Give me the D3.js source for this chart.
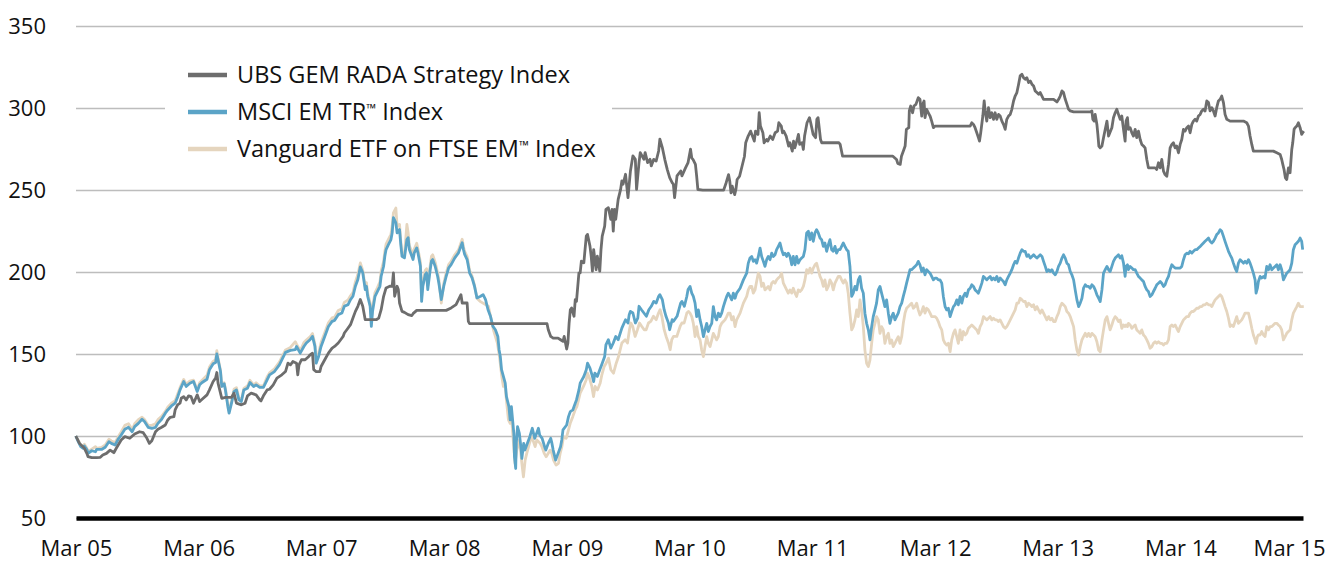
<!DOCTYPE html>
<html>
<head>
<meta charset="utf-8">
<script src="https://cdn.jsdelivr.net/npm/d3@7"></script>
<style>
  body { margin: 0; background: #fff; }
  svg { display: block; font-family: "Open Sans", "Noto Sans", sans-serif; }
</style>
</head>
<body>
<svg id="chart"></svg>
<script>
// data: [decimal year, index value], rebased to 100 in Mar 2005
const yTicks = [50, 100, 150, 200, 250, 300, 350];
const xTickYears = [2005, 2006, 2007, 2008, 2009, 2010, 2011, 2012, 2013, 2014, 2015];
const xTickLabels = ["Mar 05", "Mar 06", "Mar 07", "Mar 08", "Mar 09", "Mar 10", "Mar 11", "Mar 12", "Mar 13", "Mar 14", "Mar 15"];
const seriesNames = ["UBS GEM RADA Strategy Index", "MSCI EM TR\u2122 Index", "Vanguard ETF on FTSE EM\u2122 Index"];
const seriesColors = ["#6d6d6d", "#5ba4c7", "#e5d5be"];

const ubs = [
  [2005.16,100],[2005.19,95.5],[2005.23,92.5],[2005.25,89.4],[2005.26,87.4],[2005.29,86.8],[2005.33,86.8],[2005.36,87.0],[2005.38,88.4],[2005.41,89.4],
  [2005.44,91.4],[2005.47,89.8],[2005.49,92.5],[2005.53,97.6],[2005.56,99.6],[2005.60,98.6],[2005.64,101.2],[2005.68,102.6],[2005.71,102.0],[2005.74,98.6],
  [2005.76,95.5],[2005.78,97.1],[2005.81,102.6],[2005.83,104.1],[2005.86,105.3],[2005.89,106.7],[2005.91,109.8],[2005.93,111.4],[2005.96,111.8],[2005.97,115.9],
  [2005.99,119.0],[2006.01,120.0],[2006.02,123.0],[2006.04,124.0],[2006.06,122.0],[2006.08,124.5],[2006.10,124.0],[2006.12,120.0],[2006.15,125.1],[2006.17,121.0],
  [2006.19,122.4],[2006.23,125.1],[2006.25,128.1],[2006.28,133.2],[2006.30,135.3],[2006.31,138.7],[2006.32,132.2],[2006.34,126.1],[2006.35,123.0],[2006.38,123.6],
  [2006.43,123.6],[2006.45,126.1],[2006.47,120.0],[2006.51,119.0],[2006.54,120.0],[2006.56,124.5],[2006.59,126.1],[2006.63,125.1],[2006.66,122.0],[2006.67,121.4],
  [2006.69,124.5],[2006.72,128.1],[2006.74,128.5],[2006.77,131.2],[2006.80,135.3],[2006.84,137.3],[2006.87,139.3],[2006.89,144.4],[2006.91,143.4],[2006.93,145.4],
  [2006.96,144.4],[2006.97,137.3],[2006.98,143.4],[2007.00,146.5],[2007.03,146.5],[2007.06,148.5],[2007.07,149.5],[2007.09,150.5],[2007.10,140.4],[2007.12,139.3],
  [2007.15,139.3],[2007.16,142.4],[2007.19,146.5],[2007.22,150.5],[2007.25,153.6],[2007.27,154.6],[2007.30,156.7],[2007.32,158.7],[2007.34,160.7],[2007.35,162.8],
  [2007.37,164.8],[2007.40,167.9],[2007.42,171.9],[2007.44,176.0],[2007.46,179.1],[2007.48,183.2],[2007.50,179.1],[2007.52,170.9],[2007.61,170.9],[2007.63,171.9],
  [2007.65,177.0],[2007.67,185.2],[2007.69,190.3],[2007.72,191.3],[2007.74,191.3],[2007.75,199.5],[2007.76,185.2],[2007.78,191.3],[2007.79,189.3],[2007.80,181.1],
  [2007.82,176.0],[2007.84,175.4],[2007.87,174.0],[2007.90,173.4],[2007.91,174.6],[2007.94,176.6],[2008.18,176.6],[2008.22,178.1],[2008.26,180.1],[2008.30,186.2],
  [2008.31,181.1],[2008.35,181.1],[2008.36,169.9],[2008.37,168.5],[2009.00,168.5],[2009.01,164.8],[2009.03,160.7],[2009.05,159.7],[2009.09,159.7],[2009.11,158.7],
  [2009.13,157.7],[2009.14,160.7],[2009.16,153.0],[2009.17,156.7],[2009.18,168.9],[2009.19,177.0],[2009.20,178.1],[2009.22,173.0],[2009.23,183.2],[2009.24,182.1],
  [2009.26,199.5],[2009.27,199.5],[2009.28,206.6],[2009.30,205.6],[2009.32,221.9],[2009.33,222.9],[2009.35,215.8],[2009.36,209.6],[2009.37,200.5],[2009.38,213.7],
  [2009.40,201.5],[2009.41,209.6],[2009.43,200.5],[2009.44,213.7],[2009.45,221.9],[2009.47,228.0],[2009.48,238.2],[2009.50,239.2],[2009.52,232.1],[2009.53,238.2],
  [2009.54,224.9],[2009.55,238.2],[2009.56,232.1],[2009.58,244.3],[2009.60,250.4],[2009.61,255.5],[2009.62,253.5],[2009.64,259.6],[2009.65,252.4],[2009.66,245.3],
  [2009.68,261.6],[2009.70,270.8],[2009.72,268.7],[2009.73,250.4],[2009.75,266.7],[2009.76,272.8],[2009.79,268.7],[2009.80,272.8],[2009.82,266.7],[2009.84,268.7],
  [2009.85,264.7],[2009.87,268.7],[2009.89,267.7],[2009.91,273.8],[2009.92,281.0],[2009.94,275.9],[2009.96,268.7],[2009.98,262.6],[2010.00,257.5],[2010.02,254.5],
  [2010.03,253.5],[2010.04,245.3],[2010.06,258.6],[2010.09,261.6],[2010.10,258.6],[2010.13,263.6],[2010.15,266.7],[2010.17,274.9],[2010.18,269.6],[2010.19,268.6],
  [2010.21,265.6],[2010.22,258.4],[2010.23,250.3],[2010.27,249.9],[2010.44,249.9],[2010.46,254.3],[2010.48,259.4],[2010.49,255.4],[2010.50,248.2],[2010.51,252.3],
  [2010.53,247.2],[2010.54,250.3],[2010.55,256.4],[2010.57,258.4],[2010.59,264.5],[2010.61,270.6],[2010.62,278.8],[2010.64,282.9],[2010.66,285.9],[2010.68,281.9],
  [2010.69,279.8],[2010.70,285.9],[2010.72,283.9],[2010.73,297.1],[2010.74,289.0],[2010.76,284.9],[2010.77,278.8],[2010.79,280.8],[2010.80,279.8],[2010.82,282.9],
  [2010.84,280.8],[2010.86,284.9],[2010.88,285.9],[2010.89,291.0],[2010.91,289.0],[2010.92,284.9],[2010.93,285.9],[2010.95,282.9],[2010.97,276.8],[2010.98,278.8],
  [2011.00,273.7],[2011.01,279.8],[2011.02,275.7],[2011.04,280.8],[2011.05,283.9],[2011.06,277.8],[2011.08,278.8],[2011.09,274.7],[2011.10,282.9],[2011.12,291.0],
  [2011.14,294.1],[2011.15,291.0],[2011.17,283.9],[2011.19,281.9],[2011.20,293.1],[2011.21,294.1],[2011.23,280.8],[2011.24,278.8],[2011.38,278.8],[2011.39,277.8],
  [2011.41,270.6],[2011.82,270.6],[2011.85,268.6],[2011.86,266.2],[2011.88,265.6],[2011.89,270.6],[2011.91,274.7],[2011.92,276.8],[2011.93,287.0],[2011.95,288.0],
  [2011.954,298.2],[2011.965,301.2],[2011.981,297.1],[2011.992,301.2],[2012.008,302.2],[2012.027,306.3],[2012.041,305.3],[2012.055,295.1],[2012.063,302.2],[2012.074,304.3],
  [2012.082,294.1],[2012.095,299.2],[2012.109,297.1],[2012.123,295.1],[2012.136,292.0],[2012.150,288.0],[2012.163,289.0],[2012.449,289.0],[2012.462,291.0],[2012.476,290.0],
  [2012.489,288.0],[2012.503,284.9],[2012.516,281.9],[2012.525,279.8],[2012.535,284.9],[2012.552,295.1],[2012.563,304.3],[2012.571,298.2],[2012.584,292.0],[2012.598,300.2],
  [2012.612,294.1],[2012.625,297.1],[2012.639,293.1],[2012.652,297.1],[2012.666,293.1],[2012.680,296.1],[2012.693,295.1],[2012.707,292.0],[2012.720,290.0],[2012.734,287.0],
  [2012.747,293.1],[2012.761,295.1],[2012.775,296.1],[2012.788,299.2],[2012.802,304.3],[2012.815,307.3],[2012.829,309.4],[2012.843,314.5],[2012.856,319.6],[2012.870,320.6],
  [2012.883,318.5],[2012.897,317.5],[2012.910,318.5],[2012.924,315.5],[2012.938,316.5],[2012.951,314.5],[2012.965,313.4],[2012.978,310.4],[2012.992,309.4],[2013.006,308.4],
  [2013.019,309.4],[2013.033,307.3],[2013.046,305.3],[2013.128,305.3],[2013.155,303.7],[2013.169,305.3],[2013.182,307.3],[2013.196,310.4],[2013.209,309.4],[2013.223,305.3],
  [2013.237,302.2],[2013.250,299.2],[2013.264,298.2],[2013.291,297.6],[2013.427,297.6],[2013.440,298.2],[2013.448,293.1],[2013.459,292.0],[2013.467,296.1],[2013.481,290.0],
  [2013.489,283.9],[2013.497,276.8],[2013.508,275.7],[2013.522,276.8],[2013.535,281.9],[2013.549,287.0],[2013.563,292.0],[2013.576,282.9],[2013.603,288.0],[2013.616,294.1],
  [2013.630,297.1],[2013.643,299.2],[2013.657,296.1],[2013.671,293.1],[2013.684,295.1],[2013.698,287.0],[2013.711,279.8],[2013.719,292.0],[2013.730,294.1],[2013.738,287.0],
  [2013.752,288.0],[2013.766,284.9],[2013.779,282.9],[2013.793,287.0],[2013.806,281.9],[2013.820,285.9],[2013.834,280.8],[2013.847,277.8],[2013.861,276.8],[2013.874,275.7],
  [2013.888,268.6],[2013.901,263.5],[2013.929,263.5],[2013.956,263.5],[2013.969,262.5],[2013.983,266.6],[2013.997,263.5],[2014.010,268.6],[2014.024,261.5],[2014.037,259.4],
  [2014.051,258.4],[2014.065,265.6],[2014.078,275.7],[2014.092,277.8],[2014.105,278.8],[2014.119,275.7],[2014.132,276.8],[2014.146,272.7],[2014.160,277.8],[2014.173,280.8],
  [2014.187,287.0],[2014.200,285.9],[2014.214,288.0],[2014.228,289.0],[2014.241,284.9],[2014.255,290.0],[2014.268,292.0],[2014.282,293.1],[2014.295,292.0],[2014.309,295.1],
  [2014.323,296.1],[2014.336,298.2],[2014.350,299.2],[2014.363,298.2],[2014.377,304.3],[2014.391,303.3],[2014.404,298.2],[2014.418,300.2],[2014.431,298.2],[2014.445,295.1],
  [2014.458,300.2],[2014.472,304.3],[2014.486,305.3],[2014.499,307.3],[2014.513,303.3],[2014.526,296.1],[2014.540,293.1],[2014.567,292.0],[2014.676,292.0],[2014.703,291.0],
  [2014.717,289.0],[2014.730,282.9],[2014.744,277.8],[2014.757,273.7],[2014.920,273.7],[2014.948,272.7],[2014.975,271.7],[2014.988,268.6],[2014.997,265.6],[2015.007,262.5],
  [2015.018,257.4],[2015.029,256.4],[2015.043,263.5],[2015.056,260.5],[2015.070,274.7],[2015.078,278.8],[2015.089,287.0],[2015.097,288.0],[2015.111,289.0],[2015.124,291.0],
  [2015.138,288.0],[2015.151,283.9],[2015.159,284.9],[2015.168,285.9]
];

const msci = [
  [2005.16,100],[2005.18,96.5],[2005.20,93.5],[2005.22,92.5],[2005.23,93.9],[2005.25,91.8],[2005.26,89.4],[2005.29,91.0],[2005.32,90.4],[2005.33,91.8],
  [2005.37,91.8],[2005.40,93.1],[2005.43,96.5],[2005.45,95.5],[2005.48,94.5],[2005.51,98.6],[2005.53,100.6],[2005.56,104.1],[2005.59,105.3],[2005.62,102.6],
  [2005.64,105.7],[2005.67,107.7],[2005.70,110.2],[2005.72,108.8],[2005.75,105.3],[2005.78,104.7],[2005.81,105.3],[2005.83,107.7],[2005.86,110.2],[2005.89,113.9],
  [2005.91,115.9],[2005.94,118.3],[2005.97,120.0],[2005.99,123.6],[2006.01,128.1],[2006.04,133.2],[2006.06,130.2],[2006.09,132.2],[2006.12,133.2],[2006.15,127.1],
  [2006.17,131.2],[2006.19,132.6],[2006.23,134.6],[2006.25,140.4],[2006.28,144.0],[2006.30,144.8],[2006.31,150.1],[2006.32,146.5],[2006.34,139.3],[2006.35,130.2],
  [2006.37,131.8],[2006.38,128.1],[2006.40,117.9],[2006.41,113.9],[2006.43,120.0],[2006.45,127.1],[2006.47,128.1],[2006.49,122.0],[2006.51,121.0],[2006.53,128.1],
  [2006.56,129.1],[2006.58,132.6],[2006.61,130.2],[2006.63,131.2],[2006.66,129.6],[2006.69,129.6],[2006.72,134.2],[2006.74,137.3],[2006.78,139.3],[2006.82,143.4],
  [2006.87,151.0],[2006.91,152.2],[2006.95,152.6],[2006.96,154.6],[2006.99,150.5],[2007.02,154.6],[2007.04,156.7],[2007.07,158.7],[2007.09,160.7],[2007.11,154.6],
  [2007.12,144.4],[2007.14,148.5],[2007.16,154.6],[2007.19,160.7],[2007.22,166.8],[2007.25,169.9],[2007.27,170.5],[2007.30,174.0],[2007.33,175.0],[2007.35,179.1],
  [2007.38,180.1],[2007.40,183.2],[2007.42,185.2],[2007.44,191.3],[2007.46,195.4],[2007.48,203.1],[2007.50,199.5],[2007.52,189.3],[2007.53,191.3],[2007.54,185.2],
  [2007.56,179.1],[2007.57,166.8],[2007.58,176.0],[2007.60,185.2],[2007.62,188.2],[2007.64,191.3],[2007.65,197.4],[2007.67,203.5],[2007.68,209.6],[2007.69,213.7],
  [2007.71,216.8],[2007.73,219.8],[2007.74,223.9],[2007.75,233.1],[2007.77,230.0],[2007.78,223.9],[2007.80,225.9],[2007.81,216.8],[2007.82,209.6],[2007.84,208.6],
  [2007.86,219.8],[2007.87,220.9],[2007.88,213.7],[2007.91,207.6],[2007.92,211.7],[2007.94,214.7],[2007.95,211.7],[2007.97,203.5],[2007.98,182.1],[2007.99,191.3],
  [2008.01,198.4],[2008.02,199.5],[2008.03,189.3],[2008.05,201.5],[2008.06,206.6],[2008.07,207.6],[2008.09,203.5],[2008.11,197.4],[2008.12,193.3],[2008.14,183.2],
  [2008.16,191.3],[2008.18,197.4],[2008.20,202.5],[2008.22,204.5],[2008.25,208.6],[2008.28,211.7],[2008.31,217.8],[2008.32,213.7],[2008.33,210.7],[2008.35,207.6],
  [2008.37,199.5],[2008.39,196.4],[2008.41,191.3],[2008.43,184.2],[2008.46,185.2],[2008.48,186.2],[2008.50,183.2],[2008.52,177.0],[2008.54,173.0],[2008.56,166.8],
  [2008.58,164.8],[2008.60,160.7],[2008.61,152.6],[2008.62,148.5],[2008.63,140.4],[2008.645,136.3],[2008.66,132.2],[2008.67,124.0],[2008.69,117.9],[2008.70,109.8],
  [2008.71,117.9],[2008.73,101.6],[2008.735,87.4],[2008.745,80.2],[2008.75,95.5],[2008.76,105.7],[2008.775,101.6],[2008.79,91.4],[2008.795,86.3],[2008.81,95.5],
  [2008.82,91.4],[2008.835,94.5],[2008.86,99.6],[2008.88,104.7],[2008.89,101.6],[2008.90,98.6],[2008.92,102.6],[2008.93,104.7],[2008.94,100.6],[2008.96,98.6],
  [2008.98,93.5],[2008.99,91.4],[2009.01,95.5],[2009.03,98.6],[2009.04,95.5],[2009.05,91.4],[2009.07,85.3],[2009.09,89.4],[2009.11,93.5],[2009.12,97.6],
  [2009.13,103.7],[2009.16,106.7],[2009.175,111.8],[2009.19,114.9],[2009.21,115.9],[2009.23,120.0],[2009.24,122.0],[2009.26,128.1],[2009.27,132.2],[2009.30,136.3],
  [2009.32,140.4],[2009.33,144.4],[2009.35,141.4],[2009.37,136.3],[2009.38,133.2],[2009.39,138.3],[2009.41,136.3],[2009.43,140.4],[2009.45,144.4],[2009.47,148.5],
  [2009.48,155.6],[2009.50,158.7],[2009.52,153.6],[2009.54,156.7],[2009.56,160.7],[2009.58,158.7],[2009.61,165.8],[2009.64,170.9],[2009.66,168.9],[2009.67,174.0],
  [2009.68,176.0],[2009.70,175.0],[2009.72,168.9],[2009.74,171.9],[2009.75,179.1],[2009.77,177.0],[2009.79,175.0],[2009.81,173.0],[2009.83,177.0],[2009.85,179.1],
  [2009.87,182.1],[2009.89,181.1],[2009.91,185.2],[2009.92,186.2],[2009.94,183.2],[2009.955,177.0],[2009.97,173.0],[2009.99,168.9],[2010.00,164.8],[2010.02,170.9],
  [2010.03,169.9],[2010.06,173.0],[2010.09,181.1],[2010.10,182.1],[2010.12,179.1],[2010.14,185.2],[2010.15,189.3],[2010.166,191.2],[2010.180,187.1],[2010.193,185.1],
  [2010.207,181.0],[2010.220,172.8],[2010.234,176.9],[2010.248,170.8],[2010.261,166.7],[2010.275,160.6],[2010.288,164.7],[2010.302,168.7],[2010.315,163.7],[2010.329,166.7],
  [2010.343,168.7],[2010.356,178.9],[2010.370,172.8],[2010.383,170.8],[2010.397,174.9],[2010.411,172.8],[2010.424,174.9],[2010.438,178.9],[2010.451,182.0],[2010.465,185.1],
  [2010.478,187.1],[2010.492,185.1],[2010.506,183.0],[2010.519,187.1],[2010.533,184.0],[2010.546,187.1],[2010.574,190.1],[2010.601,195.2],[2010.628,199.3],[2010.641,205.4],
  [2010.655,208.5],[2010.669,209.5],[2010.682,206.5],[2010.696,207.5],[2010.709,205.4],[2010.723,209.5],[2010.737,214.6],[2010.750,209.5],[2010.764,206.5],[2010.777,203.4],
  [2010.791,207.5],[2010.804,209.5],[2010.818,207.5],[2010.832,211.5],[2010.845,209.5],[2010.859,210.5],[2010.872,213.6],[2010.886,215.6],[2010.900,217.7],[2010.913,213.6],
  [2010.927,210.5],[2010.940,211.5],[2010.954,209.5],[2010.967,211.5],[2010.981,209.5],[2010.995,204.4],[2011.008,209.5],[2011.022,204.4],[2011.035,209.5],[2011.049,205.4],
  [2011.063,207.5],[2011.076,208.5],[2011.090,209.5],[2011.103,213.6],[2011.117,223.8],[2011.131,224.8],[2011.144,219.7],[2011.158,223.8],[2011.171,218.7],[2011.185,223.8],
  [2011.198,225.8],[2011.212,223.8],[2011.226,220.7],[2011.239,219.7],[2011.253,215.6],[2011.266,217.7],[2011.280,212.6],[2011.294,216.6],[2011.307,219.7],[2011.321,213.6],
  [2011.334,212.6],[2011.348,215.6],[2011.361,211.5],[2011.375,213.6],[2011.389,213.6],[2011.402,215.6],[2011.416,217.7],[2011.429,215.6],[2011.443,213.6],[2011.456,212.6],
  [2011.470,203.4],[2011.484,185.1],[2011.497,187.1],[2011.511,191.2],[2011.525,189.1],[2011.538,195.2],[2011.552,197.3],[2011.565,190.1],[2011.579,187.1],[2011.592,174.9],
  [2011.606,168.7],[2011.620,164.7],[2011.633,158.6],[2011.647,166.7],[2011.660,172.8],[2011.674,176.9],[2011.687,181.0],[2011.701,189.1],[2011.715,191.2],[2011.728,187.1],
  [2011.742,183.0],[2011.755,178.9],[2011.769,183.0],[2011.783,174.9],[2011.796,168.7],[2011.810,172.8],[2011.823,174.9],[2011.837,170.8],[2011.850,172.8],[2011.864,174.9],
  [2011.878,178.9],[2011.892,181.0],[2011.905,185.1],[2011.919,189.1],[2011.932,193.2],[2011.946,197.3],[2011.960,201.4],[2011.973,201.4],[2011.987,202.4],[2012.000,203.4],
  [2012.014,204.4],[2012.027,206.5],[2012.041,204.4],[2012.055,200.3],[2012.068,202.4],[2012.082,198.3],[2012.095,201.4],[2012.109,200.3],[2012.123,199.3],[2012.136,197.3],
  [2012.150,195.2],[2012.163,196.3],[2012.177,196.3],[2012.190,195.2],[2012.204,195.2],[2012.218,193.2],[2012.231,185.1],[2012.245,178.9],[2012.258,176.9],[2012.272,177.9],
  [2012.286,172.8],[2012.299,175.9],[2012.313,178.9],[2012.326,180.0],[2012.340,183.0],[2012.353,180.0],[2012.367,185.1],[2012.381,181.0],[2012.394,185.1],[2012.408,187.1],
  [2012.421,185.1],[2012.435,189.1],[2012.449,190.1],[2012.462,192.2],[2012.476,191.2],[2012.489,189.1],[2012.503,188.1],[2012.516,187.1],[2012.530,190.1],[2012.544,193.2],
  [2012.557,197.3],[2012.571,196.3],[2012.584,195.2],[2012.598,196.3],[2012.612,197.3],[2012.625,195.2],[2012.639,196.3],[2012.652,195.2],[2012.666,197.3],[2012.679,194.2],
  [2012.693,196.3],[2012.707,195.2],[2012.720,194.2],[2012.734,192.2],[2012.747,195.2],[2012.761,197.3],[2012.775,199.3],[2012.788,201.4],[2012.802,204.4],[2012.815,206.5],
  [2012.829,205.4],[2012.842,208.5],[2012.856,211.5],[2012.870,213.6],[2012.883,212.6],[2012.897,212.6],[2012.910,209.5],[2012.924,210.5],[2012.938,208.5],[2012.951,209.5],
  [2012.965,210.5],[2012.978,209.5],[2012.992,208.5],[2013.005,209.5],[2013.019,210.5],[2013.033,209.5],[2013.046,206.5],[2013.060,203.4],[2013.073,200.3],[2013.087,201.4],
  [2013.101,200.3],[2013.114,201.4],[2013.128,199.3],[2013.141,198.3],[2013.155,200.3],[2013.168,203.4],[2013.182,205.4],[2013.196,208.5],[2013.209,210.5],[2013.223,208.5],
  [2013.236,205.4],[2013.250,204.4],[2013.264,200.3],[2013.277,198.3],[2013.291,195.2],[2013.304,189.1],[2013.318,183.0],[2013.332,178.9],[2013.345,181.0],[2013.359,184.0],
  [2013.372,190.1],[2013.386,192.2],[2013.400,191.2],[2013.413,191.2],[2013.427,190.1],[2013.440,192.2],[2013.454,191.2],[2013.467,189.1],[2013.481,186.1],[2013.495,184.0],
  [2013.508,182.0],[2013.522,189.1],[2013.535,199.3],[2013.549,201.4],[2013.563,203.4],[2013.576,201.4],[2013.589,200.3],[2013.603,203.4],[2013.616,206.5],[2013.630,208.5],
  [2013.643,209.5],[2013.657,210.5],[2013.671,208.5],[2013.684,209.9],[2013.698,205.4],[2013.711,197.3],[2013.719,203.4],[2013.730,204.4],[2013.738,201.4],[2013.752,203.4],
  [2013.766,202.4],[2013.779,201.4],[2013.793,201.4],[2013.806,199.3],[2013.820,197.3],[2013.834,196.3],[2013.847,195.2],[2013.861,194.2],[2013.874,191.2],[2013.888,189.1],
  [2013.901,188.1],[2013.915,185.1],[2013.929,186.1],[2013.942,188.1],[2013.956,190.1],[2013.969,192.2],[2013.983,193.2],[2013.997,194.2],[2014.010,193.2],[2014.024,191.2],
  [2014.037,192.2],[2014.051,195.2],[2014.065,197.3],[2014.078,201.4],[2014.092,204.4],[2014.105,203.4],[2014.119,202.4],[2014.132,202.4],[2014.146,202.4],[2014.160,202.4],
  [2014.173,203.4],[2014.187,207.5],[2014.200,210.5],[2014.214,211.5],[2014.228,211.1],[2014.241,212.6],[2014.255,211.5],[2014.268,212.6],[2014.282,213.6],[2014.295,213.6],
  [2014.309,214.6],[2014.323,215.6],[2014.336,216.6],[2014.350,217.7],[2014.363,218.7],[2014.377,219.7],[2014.391,220.7],[2014.404,218.7],[2014.418,217.7],[2014.431,218.7],
  [2014.445,220.7],[2014.458,222.8],[2014.472,223.8],[2014.486,225.8],[2014.499,224.8],[2014.513,221.7],[2014.526,218.7],[2014.540,215.6],[2014.554,212.6],[2014.567,210.5],
  [2014.581,208.5],[2014.594,205.4],[2014.608,202.4],[2014.621,200.3],[2014.635,205.4],[2014.649,207.5],[2014.662,206.5],[2014.676,205.4],[2014.689,206.5],[2014.703,205.4],
  [2014.717,207.5],[2014.730,205.4],[2014.744,202.4],[2014.757,199.3],[2014.771,195.2],[2014.779,187.1],[2014.790,190.1],[2014.798,194.2],[2014.812,197.3],[2014.825,196.3],
  [2014.839,197.3],[2014.852,196.3],[2014.866,203.4],[2014.880,201.4],[2014.893,204.4],[2014.907,201.4],[2014.920,202.4],[2014.934,203.4],[2014.948,204.4],[2014.961,201.4],
  [2014.975,204.4],[2014.988,201.4],[2015.002,195.2],[2015.016,197.3],[2015.029,199.3],[2015.043,200.3],[2015.056,201.4],[2015.070,205.4],[2015.083,213.6],[2015.097,216.6],
  [2015.111,217.7],[2015.124,218.7],[2015.138,220.7],[2015.151,218.7],[2015.159,213.6]
];

const vanguard = [
  [2005.16,100],[2005.18,97.5],[2005.20,94.5],[2005.22,93.5],[2005.23,95.0],[2005.25,92.5],[2005.26,90.5],[2005.29,92.0],[2005.32,93.5],[2005.33,92.5],
  [2005.37,93.0],[2005.40,94.5],[2005.43,98.0],[2005.45,97.0],[2005.48,96.0],[2005.51,100.0],[2005.53,102.5],[2005.56,106.5],[2005.59,107.5],[2005.62,104.0],
  [2005.64,107.5],[2005.67,110.0],[2005.70,111.5],[2005.72,110.0],[2005.75,106.5],[2005.78,106.5],[2005.81,107.5],[2005.83,110.0],[2005.86,112.0],[2005.89,115.0],
  [2005.91,117.5],[2005.94,120.0],[2005.97,121.5],[2005.99,125.5],[2006.01,129.5],[2006.04,134.5],[2006.06,131.5],[2006.09,133.5],[2006.12,134.0],[2006.15,128.0],
  [2006.17,132.5],[2006.19,134.0],[2006.23,137.0],[2006.25,142.0],[2006.28,145.5],[2006.30,146.5],[2006.31,152.0],[2006.32,147.5],[2006.34,140.0],[2006.35,131.5],
  [2006.37,132.5],[2006.38,129.0],[2006.40,119.0],[2006.41,115.5],[2006.43,121.5],[2006.45,128.5],[2006.47,129.5],[2006.49,123.0],[2006.51,122.0],[2006.53,129.0],
  [2006.56,130.5],[2006.58,134.0],[2006.61,131.0],[2006.63,132.5],[2006.66,130.5],[2006.69,130.5],[2006.72,136.0],[2006.74,138.5],[2006.78,141.0],[2006.82,145.0],
  [2006.87,152.5],[2006.91,154.0],[2006.95,157.5],[2006.96,156.0],[2006.99,152.0],[2007.02,157.0],[2007.04,158.5],[2007.07,160.5],[2007.09,162.5],[2007.11,156.0],
  [2007.12,147.0],[2007.14,150.5],[2007.16,157.0],[2007.19,163.0],[2007.22,169.0],[2007.25,172.0],[2007.27,172.5],[2007.30,176.5],[2007.33,177.5],[2007.35,181.5],
  [2007.38,183.0],[2007.40,185.5],[2007.42,187.5],[2007.44,194.0],[2007.46,198.5],[2007.48,205.5],[2007.50,201.0],[2007.52,191.0],[2007.53,193.5],[2007.54,187.0],
  [2007.56,181.0],[2007.57,170.0],[2007.58,178.5],[2007.60,187.5],[2007.62,190.5],[2007.64,194.0],[2007.65,200.5],[2007.67,206.5],[2007.68,212.5],[2007.69,217.0],
  [2007.71,220.0],[2007.73,223.0],[2007.74,228.0],[2007.75,236.0],[2007.77,239.0],[2007.78,228.0],[2007.80,229.0],[2007.81,219.0],[2007.82,211.5],[2007.84,210.5],
  [2007.86,229.0],[2007.87,224.0],[2007.88,216.0],[2007.91,210.5],[2007.92,214.0],[2007.94,217.5],[2007.95,214.0],[2007.97,206.0],[2007.98,185.0],[2007.99,193.5],
  [2008.01,201.0],[2008.02,202.0],[2008.03,191.5],[2008.05,204.0],[2008.06,209.5],[2008.07,210.5],[2008.09,206.0],[2008.11,199.5],[2008.12,195.5],[2008.14,181.0],
  [2008.16,193.0],[2008.18,199.5],[2008.20,204.5],[2008.22,206.5],[2008.25,210.5],[2008.28,213.5],[2008.31,220.0],[2008.32,215.5],[2008.33,212.5],[2008.35,209.5],
  [2008.37,201.0],[2008.39,197.5],[2008.41,192.0],[2008.43,184.0],[2008.455,182.1],[2008.523,179.1],[2008.564,164.8],[2008.596,156.7],[2008.613,148.5],[2008.632,136.3],
  [2008.645,130.2],[2008.659,130.2],[2008.672,120.0],[2008.686,109.8],[2008.700,107.7],[2008.713,109.8],[2008.727,95.5],[2008.740,83.3],[2008.754,91.4],[2008.776,97.6],
  [2008.795,83.3],[2008.808,75.1],[2008.822,85.3],[2008.835,89.4],[2008.857,95.5],[2008.876,99.6],[2008.903,93.5],[2008.917,97.6],[2008.944,95.5],[2008.958,93.5],
  [2008.977,89.4],[2008.993,87.4],[2009.026,91.4],[2009.039,89.4],[2009.053,85.3],[2009.074,82.3],[2009.093,83.3],[2009.107,89.4],[2009.121,93.5],[2009.134,99.6],
  [2009.156,98.6],[2009.175,103.7],[2009.189,107.7],[2009.210,111.8],[2009.229,115.9],[2009.243,117.9],[2009.257,122.0],[2009.270,126.1],[2009.297,130.2],[2009.319,134.2],
  [2009.330,138.3],[2009.346,135.3],[2009.365,130.2],[2009.379,124.0],[2009.392,130.2],[2009.411,128.1],[2009.433,132.2],[2009.447,137.3],[2009.466,142.4],[2009.482,144.4],
  [2009.501,147.5],[2009.520,140.4],[2009.542,138.3],[2009.564,144.4],[2009.583,148.5],[2009.610,156.7],[2009.637,158.7],[2009.656,156.7],[2009.672,164.8],[2009.683,168.9],
  [2009.699,166.8],[2009.718,160.7],[2009.737,164.8],[2009.754,168.9],[2009.773,166.8],[2009.792,164.8],[2009.808,164.8],[2009.827,168.9],[2009.846,169.9],[2009.868,173.0],
  [2009.890,170.9],[2009.909,175.0],[2009.922,177.0],[2009.936,173.0],[2009.955,164.8],[2009.971,160.7],[2009.990,156.7],[2010.004,152.6],[2010.017,158.7],[2010.031,160.7],
  [2010.058,160.7],[2010.085,166.8],[2010.099,168.9],[2010.118,168.9],[2010.140,175.0],[2010.153,176.0],[2010.166,174.9],[2010.180,172.8],[2010.193,168.7],[2010.207,160.6],
  [2010.220,166.7],[2010.234,160.6],[2010.248,158.6],[2010.261,152.4],[2010.275,148.4],[2010.288,154.5],[2010.302,160.6],[2010.315,156.5],[2010.329,154.5],[2010.343,158.6],
  [2010.356,162.6],[2010.370,160.6],[2010.383,158.6],[2010.397,160.6],[2010.411,166.7],[2010.424,168.7],[2010.438,169.8],[2010.451,170.8],[2010.465,172.8],[2010.478,174.9],
  [2010.492,174.9],[2010.506,170.8],[2010.519,172.8],[2010.533,166.7],[2010.546,170.8],[2010.574,174.9],[2010.601,181.0],[2010.628,185.1],[2010.641,189.1],[2010.655,191.2],
  [2010.669,191.2],[2010.682,187.1],[2010.696,189.1],[2010.709,194.2],[2010.723,199.3],[2010.737,197.3],[2010.750,191.2],[2010.764,193.2],[2010.777,189.1],[2010.791,190.1],
  [2010.804,191.2],[2010.818,189.1],[2010.832,193.2],[2010.845,194.2],[2010.859,193.2],[2010.872,195.2],[2010.886,196.3],[2010.900,197.3],[2010.913,199.3],[2010.927,193.2],
  [2010.940,191.2],[2010.954,189.1],[2010.967,187.1],[2010.981,189.1],[2010.995,187.1],[2011.008,190.1],[2011.022,187.1],[2011.035,185.1],[2011.049,189.1],[2011.063,188.1],
  [2011.076,189.1],[2011.090,191.2],[2011.103,195.2],[2011.117,201.4],[2011.131,199.3],[2011.144,202.4],[2011.158,199.3],[2011.171,202.4],[2011.185,204.4],[2011.198,205.4],
  [2011.212,201.4],[2011.226,197.3],[2011.239,195.2],[2011.253,191.2],[2011.266,195.2],[2011.280,189.1],[2011.294,191.2],[2011.307,195.2],[2011.321,193.2],[2011.334,189.1],
  [2011.348,193.2],[2011.361,195.2],[2011.375,197.3],[2011.389,197.3],[2011.402,195.2],[2011.416,193.2],[2011.429,195.2],[2011.443,193.2],[2011.456,187.1],[2011.470,174.9],
  [2011.484,164.7],[2011.497,166.7],[2011.511,170.8],[2011.525,176.9],[2011.538,172.8],[2011.552,183.0],[2011.565,176.9],[2011.579,166.7],[2011.592,152.4],[2011.606,144.3],
  [2011.620,142.3],[2011.633,146.3],[2011.647,156.5],[2011.660,164.7],[2011.674,168.7],[2011.687,172.8],[2011.701,170.8],[2011.715,162.6],[2011.728,166.7],[2011.742,164.7],
  [2011.755,156.5],[2011.769,160.6],[2011.783,162.6],[2011.796,156.5],[2011.810,158.6],[2011.823,154.5],[2011.837,156.5],[2011.850,158.6],[2011.864,160.6],[2011.878,156.5],
  [2011.892,160.6],[2011.905,168.7],[2011.919,174.9],[2011.932,177.9],[2011.946,178.9],[2011.960,180.0],[2011.973,181.0],[2011.987,177.9],[2012.000,178.9],[2012.014,181.0],
  [2012.027,176.9],[2012.041,173.8],[2012.055,175.9],[2012.068,178.9],[2012.082,174.9],[2012.095,177.9],[2012.109,176.9],[2012.123,174.9],[2012.136,172.8],[2012.150,172.8],
  [2012.163,172.8],[2012.177,171.8],[2012.190,169.8],[2012.204,166.7],[2012.218,164.7],[2012.231,158.6],[2012.245,156.5],[2012.258,155.5],[2012.272,156.5],[2012.286,151.4],
  [2012.299,158.6],[2012.313,162.6],[2012.326,164.7],[2012.340,160.6],[2012.353,156.5],[2012.367,164.7],[2012.381,158.6],[2012.394,163.7],[2012.408,161.6],[2012.421,162.6],
  [2012.435,165.7],[2012.449,166.7],[2012.462,167.7],[2012.476,166.7],[2012.489,165.7],[2012.503,164.7],[2012.516,162.6],[2012.530,166.7],[2012.544,168.7],[2012.557,172.8],
  [2012.571,171.8],[2012.584,170.8],[2012.598,171.8],[2012.612,172.8],[2012.625,170.8],[2012.639,171.8],[2012.652,170.8],[2012.666,170.8],[2012.679,169.8],[2012.693,170.8],
  [2012.707,168.7],[2012.720,166.7],[2012.734,165.7],[2012.747,166.7],[2012.761,168.7],[2012.775,170.8],[2012.788,172.8],[2012.802,174.9],[2012.815,176.9],[2012.829,181.0],
  [2012.842,181.0],[2012.856,184.0],[2012.870,183.0],[2012.883,182.0],[2012.897,182.0],[2012.910,178.9],[2012.924,181.0],[2012.938,180.0],[2012.951,178.9],[2012.965,180.0],
  [2012.978,176.9],[2012.992,178.9],[2013.005,176.9],[2013.019,174.9],[2013.033,176.9],[2013.046,174.9],[2013.060,172.8],[2013.073,170.8],[2013.087,172.8],[2013.101,170.8],
  [2013.114,171.8],[2013.128,169.8],[2013.141,169.8],[2013.155,172.8],[2013.168,174.9],[2013.182,178.9],[2013.196,181.0],[2013.209,180.0],[2013.223,178.9],[2013.236,175.9],
  [2013.250,174.9],[2013.264,172.8],[2013.277,169.8],[2013.291,166.7],[2013.304,158.6],[2013.318,152.4],[2013.332,149.4],[2013.345,154.5],[2013.359,158.6],[2013.372,160.6],
  [2013.386,162.6],[2013.400,160.6],[2013.413,162.6],[2013.427,160.6],[2013.440,162.6],[2013.454,161.6],[2013.467,160.6],[2013.481,157.5],[2013.495,152.4],[2013.508,151.4],
  [2013.522,158.6],[2013.535,164.7],[2013.549,170.8],[2013.563,172.8],[2013.576,168.7],[2013.589,164.7],[2013.603,167.7],[2013.616,170.8],[2013.630,172.8],[2013.643,171.8],
  [2013.657,169.8],[2013.671,170.8],[2013.684,165.7],[2013.698,167.7],[2013.711,166.7],[2013.719,167.7],[2013.730,166.7],[2013.738,168.7],[2013.752,167.7],[2013.766,165.7],
  [2013.779,166.7],[2013.793,167.7],[2013.806,164.7],[2013.820,163.7],[2013.834,162.6],[2013.847,164.7],[2013.861,161.6],[2013.874,160.6],[2013.888,158.6],[2013.901,156.5],
  [2013.915,153.5],[2013.929,154.5],[2013.942,156.5],[2013.956,157.5],[2013.969,156.5],[2013.983,157.5],[2013.997,156.5],[2014.010,156.5],[2014.024,155.5],[2014.037,156.5],
  [2014.051,156.5],[2014.065,158.6],[2014.078,166.7],[2014.092,167.7],[2014.105,166.7],[2014.119,167.7],[2014.132,165.7],[2014.146,163.7],[2014.160,166.7],[2014.173,168.7],
  [2014.187,170.8],[2014.200,171.8],[2014.214,172.8],[2014.228,172.8],[2014.241,174.9],[2014.255,175.9],[2014.268,175.9],[2014.282,176.9],[2014.295,177.9],[2014.309,177.9],
  [2014.323,178.9],[2014.336,178.9],[2014.350,180.0],[2014.363,180.0],[2014.377,181.0],[2014.391,180.0],[2014.404,180.0],[2014.418,178.9],[2014.431,181.0],[2014.445,183.0],
  [2014.458,184.0],[2014.472,185.1],[2014.486,186.1],[2014.499,185.1],[2014.513,182.0],[2014.526,178.9],[2014.540,175.9],[2014.554,171.8],[2014.567,166.7],[2014.581,167.7],
  [2014.594,166.7],[2014.608,169.8],[2014.621,172.8],[2014.635,168.7],[2014.649,169.8],[2014.662,170.8],[2014.676,172.8],[2014.689,174.9],[2014.703,174.9],[2014.717,174.9],
  [2014.730,170.8],[2014.744,165.7],[2014.757,161.6],[2014.771,158.6],[2014.779,156.5],[2014.790,160.6],[2014.798,161.6],[2014.812,161.6],[2014.825,163.7],[2014.839,161.6],
  [2014.852,160.6],[2014.866,166.7],[2014.880,164.7],[2014.893,166.7],[2014.907,166.7],[2014.920,167.7],[2014.934,168.7],[2014.948,168.7],[2014.961,167.7],[2014.975,166.7],
  [2014.988,164.7],[2015.002,158.6],[2015.016,160.6],[2015.029,162.6],[2015.043,163.7],[2015.056,164.7],[2015.070,170.8],[2015.083,174.9],[2015.097,176.9],[2015.111,178.9],
  [2015.124,181.0],[2015.138,178.9],[2015.151,178.9],[2015.168,178.9]
];

// canvas
let w = 1328;
let h = 563;
let left = 76, right = 1303;
let axisY = 518;
let font = '"Open Sans", "Noto Sans", sans-serif';

let svg = d3.select('#chart')
svg.attr('width', w).attr('height', h)

// decimal year -> Date
let toDate = (yr) => {
  let y0 = Math.floor(yr);
  let s = Date.UTC(y0, 0, 1), e = Date.UTC(y0 + 1, 0, 1);
  return new Date(s + (yr - y0) * (e - s));
}

let xScale = d3.scaleUtc()
  .domain([new Date(Date.UTC(2005, 2, 1)), new Date(Date.UTC(2015, 2, 1))])
  .range([left, right])

let yScale = d3.scaleLinear()
  .domain([50, 350])
  .range([axisY, 26])

// y axis + gridlines
let yAxis = svg.append('g')
  .attr('transform', 'translate(' + left + ',0)')
  .call(d3.axisLeft(yScale).tickValues(yTicks).tickSize(-(right - left)).tickPadding(30))
yAxis.select('.domain').remove()
yAxis.attr('font-size', 22).attr('font-family', font)
yAxis.selectAll('.tick line')
  .attr('stroke', '#bdbdbd')
  .attr('stroke-width', 1.5)
yAxis.selectAll('.tick text').attr('fill', '#111')

// x axis: thick black base line
let xAxis = svg.append('g')
  .attr('transform', 'translate(0,' + axisY + ')')
  .call(d3.axisBottom(xScale)
    .tickValues(xTickYears.map(y => new Date(Date.UTC(y, 2, 1))))
    .tickFormat((d, i) => xTickLabels[i])
    .tickSize(0)
    .tickPadding(22))
xAxis.attr('font-size', 22).attr('font-family', font)
xAxis.select('.domain').attr('stroke', '#000').attr('stroke-width', 4.5)
xAxis.selectAll('.tick text').attr('fill', '#111')
xAxis.selectAll('.tick:last-of-type text').attr('text-anchor', 'end').attr('x', 22)

// lines
let line = d3.line()
  .x(d => xScale(toDate(d[0])))
  .y(d => yScale(d[1]))

let drawOrder = [[vanguard, 2], [msci, 1], [ubs, 0]];
drawOrder.forEach(([data, i]) => {
  svg.append('path')
    .datum(data)
    .attr('fill', 'none')
    .attr('stroke', seriesColors[i])
    .attr('stroke-width', 2.8)
    .attr('stroke-linejoin', 'round')
    .attr('d', line)
})

// legend
let legend = svg.append('g').attr('font-family', font)
legend.append('rect')
  .attr('x', 165).attr('y', 52).attr('width', 447).attr('height', 116)
  .attr('fill', '#fff')
seriesNames.forEach((name, i) => {
  let yy = 75 + i * 37;
  legend.append('line')
    .attr('x1', 188).attr('x2', 227).attr('y1', yy).attr('y2', yy)
    .attr('stroke', seriesColors[i]).attr('stroke-width', 4.5)
  let t = legend.append('text')
    .attr('x', 237).attr('y', yy)
    .attr('dy', '0.35em')
    .attr('font-size', 23.5)
    .attr('fill', '#111')
  // small raised trademark sign
  name.split('\u2122').forEach((part, j) => {
    if (j > 0) {
      t.append('tspan').attr('font-size', 13).attr('dy', -7).text('\u2122')
      t.append('tspan').attr('dy', 7).text(part)
    } else {
      t.append('tspan').text(part)
    }
  })
})
</script>
</body>
</html>
